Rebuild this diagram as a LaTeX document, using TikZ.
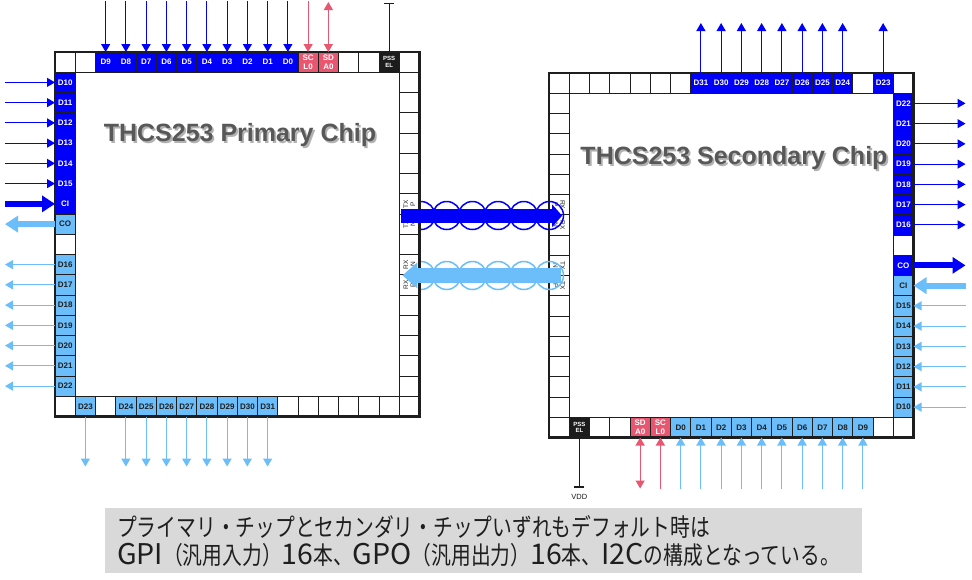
\documentclass[tikz,border=0pt]{standalone}
\usepackage{fontspec}
\setmainfont{Liberation Sans}
\newfontfamily\jpfont[FakeStretch=0.8]{Noto Sans CJK JP}
\newfontfamily\jplat{Noto Sans CJK JP}
\newcommand\lat[1]{{\jplat\fontsize{28.5}{28}\selectfont #1}}
\usetikzlibrary{arrows.meta,calc}
\definecolor{dblue}{RGB}{0,0,250}
\definecolor{lblue}{RGB}{108,190,250}
\definecolor{pinkc}{RGB}{232,86,112}
\definecolor{blk}{RGB}{28,28,28}
\definecolor{bord}{RGB}{30,30,30}
\definecolor{txtd}{RGB}{30,30,30}
\definecolor{titleg}{RGB}{88,88,88}
\definecolor{noteg}{RGB}{217,217,217}
\begin{document}
\begin{tikzpicture}[x=1pt,y=-1pt,
  cell/.style={draw=bord,line width=0.9pt,minimum width=20.25pt,minimum height=20.25pt,
    inner sep=0pt,outer sep=0pt,anchor=center,align=center,
    font=\bfseries\fontsize{8}{8.5}\selectfont},
  cE/.style={fill=white},
  cB/.style={fill=dblue,text=white},
  cL/.style={fill=lblue,text=txtd},
  cP/.style={fill=pinkc,text=white},
  cK/.style={fill=blk,text=white,font=\bfseries\fontsize{6}{6.5}\selectfont},
  cRl/.style={fill=white,text=txtd,rotate=90,font=\fontsize{6.5}{7}\selectfont},
  cRr/.style={fill=white,text=txtd,rotate=-90,font=\fontsize{6.5}{7}\selectfont},
  frame/.style={draw=bord,line width=2.6pt,minimum size=364.5pt,inner sep=0pt,outer sep=0pt},
  pinB/.style={draw=dblue,line width=1.1pt,-{Triangle[length=8pt,width=9pt]}},
  pinL/.style={draw=lblue,line width=1.1pt,-{Triangle[length=8pt,width=9pt]}},
  pinP/.style={draw=pinkc,line width=1.1pt,-{Triangle[length=8pt,width=9pt]}},
  pinPP/.style={draw=pinkc,line width=1.1pt,{Triangle[length=8pt,width=9pt]}-{Triangle[length=8pt,width=9pt]}},
  pinK/.style={draw=blk,line width=1.1pt},
  thickB/.style={draw=dblue,line width=6pt,-{Triangle[length=13pt,width=16pt]}},
  thickL/.style={draw=lblue,line width=6pt,-{Triangle[length=13pt,width=16pt]}},
  bigB/.style={draw=dblue,line width=14pt,-{Triangle[length=10pt,width=22pt]}},
  bigL/.style={draw=lblue,line width=15pt,-{Triangle[length=15pt,width=25pt]}},
  ring/.style={circle,line width=1.5pt,minimum size=28pt,inner sep=0pt},
  title/.style={font=\bfseries\fontsize{25}{25}\selectfont,text=titleg,inner sep=0pt},
  titleS/.style={title,text=black,opacity=0.3},
  notebox/.style={fill=noteg,minimum width=757pt,minimum height=65pt,inner sep=0pt},
  notetext/.style={font=\jpfont\fontsize{24.7}{28}\selectfont,text=txtd,align=left,inner sep=0pt,anchor=west},
  vdd/.style={font=\fontsize{7.5}{8}\selectfont,text=txtd,inner sep=0pt}
]
\path[use as bounding box,fill=white] (0,0) rectangle (972,579);

% ---------------- right chip (x0=549, y0=73) ----------------
\foreach \c/\t/\n in {0/cE/{},1/cE/{},2/cE/{},3/cE/{},4/cE/{},5/cE/{},6/cE/{},7/cB/D31,8/cB/D30,9/cB/D29,10/cB/D28,11/cB/D27,12/cB/D26,13/cB/D25,14/cB/D24,15/cE/{},16/cB/D23,17/cE/{}}
  \node[cell,\t] (R-T-\c) at ({549+(\c+0.5)*20.25},{73+10.125}) {\n};
\foreach \c/\t/\n in {0/cE/{},1/cK/{PSS\\EL},2/cE/{},3/cE/{},4/cP/{SD\\A0},5/cP/{SC\\L0},6/cL/D0,7/cL/D1,8/cL/D2,9/cL/D3,10/cL/D4,11/cL/D5,12/cL/D6,13/cL/D7,14/cL/D8,15/cL/D9,16/cE/{},17/cE/{}}
  \node[cell,\t] (R-B-\c) at ({549+(\c+0.5)*20.25},{73+17.5*20.25}) {\n};
\foreach \r/\t/\n in {1/cB/D22,2/cB/D21,3/cB/D20,4/cB/D19,5/cB/D18,6/cB/D17,7/cB/D16,8/cE/{},9/cB/CO,10/cL/CI,11/cL/D15,12/cL/D14,13/cL/D13,14/cL/D12,15/cL/D11,16/cL/D10}
  \node[cell,\t] (R-R-\r) at ({549+17.5*20.25},{73+(\r+0.5)*20.25}) {\n};
\foreach \r/\t/\n in {1/cE/{},2/cE/{},3/cE/{},4/cE/{},5/cE/{},6/cRr/{RX\\P},7/cRr/{RX\\N},8/cE/{},9/cRr/{TX\\N},10/cRr/{TX\\P},11/cE/{},12/cE/{},13/cE/{},14/cE/{},15/cE/{},16/cE/{}}
  \node[cell,\t] (R-L-\r) at ({549+10.125},{73+(\r+0.5)*20.25}) {\n};
\node[frame] (R-F) at ({549+182.25},{73+182.25}) {};

% ---------------- differential rings ----------------
\foreach \k in {0,...,5} {
  \node[ring,draw=dblue] (cb\k) at ({421+25.7*\k},215.5) {};
  \node[ring,draw=lblue] (cl\k) at ({421+25.7*\k},275.5) {};
}

% ---------------- left chip (x0=55, y0=52) ----------------
\foreach \c/\t/\n in {0/cE/{},1/cE/{},2/cB/D9,3/cB/D8,4/cB/D7,5/cB/D6,6/cB/D5,7/cB/D4,8/cB/D3,9/cB/D2,10/cB/D1,11/cB/D0,12/cP/{SC\\L0},13/cP/{SD\\A0},14/cE/{},15/cE/{},16/cK/{PSS\\EL},17/cE/{}}
  \node[cell,\t] (L-T-\c) at ({55+(\c+0.5)*20.25},{52+10.125}) {\n};
\foreach \c/\t/\n in {0/cE/{},1/cL/D23,2/cE/{},3/cL/D24,4/cL/D25,5/cL/D26,6/cL/D27,7/cL/D28,8/cL/D29,9/cL/D30,10/cL/D31,11/cE/{},12/cE/{},13/cE/{},14/cE/{},15/cE/{},16/cE/{},17/cE/{}}
  \node[cell,\t] (L-B-\c) at ({55+(\c+0.5)*20.25},{52+17.5*20.25}) {\n};
\foreach \r/\t/\n in {1/cB/D10,2/cB/D11,3/cB/D12,4/cB/D13,5/cB/D14,6/cB/D15,7/cB/CI,8/cL/CO,9/cE/{},10/cL/D16,11/cL/D17,12/cL/D18,13/cL/D19,14/cL/D20,15/cL/D21,16/cL/D22}
  \node[cell,\t] (L-L-\r) at ({55+10.125},{52+(\r+0.5)*20.25}) {\n};
\foreach \r/\t/\n in {1/cE/{},2/cE/{},3/cE/{},4/cE/{},5/cE/{},6/cE/{},7/cRl/{TX\\P},8/cRl/{TX\\N},9/cE/{},10/cRl/{RX\\N},11/cRl/{RX\\P},12/cE/{},13/cE/{},14/cE/{},15/cE/{},16/cE/{}}
  \node[cell,\t] (L-R-\r) at ({55+17.5*20.25},{52+(\r+0.5)*20.25}) {\n};
\node[frame] (L-F) at ({55+182.25},{52+182.25}) {};

% ---------------- big TX/RX arrows ----------------
\coordinate (txs) at ($(L-R-7.center)+(-8,11.8)$);
\coordinate (txe0) at ($(R-L-6.center)+(3,0)$);
\coordinate (txe) at (txe0 |- txs);
\draw[bigB] (txs) -- (txe);
\coordinate (rxs) at ($(R-L-9.center)+(2,10)$);
\coordinate (rxe0) at ($(L-R-10.center)+(-7,0)$);
\coordinate (rxe) at (rxe0 |- rxs);
\draw[bigL] (rxs) -- (rxe);

% ---------------- left chip pins ----------------
\foreach \c in {2,...,11} {
  \coordinate (L-T-\c-e) at ($(L-T-\c.north)+(0,-51)$);
  \draw[pinB] (L-T-\c-e) -- (L-T-\c.north);
}
\coordinate (L-T-12-e) at ($(L-T-12.north)+(0,-51)$);
\draw[pinP] (L-T-12-e) -- (L-T-12.north);
\coordinate (L-T-13-e) at ($(L-T-13.north)+(0,-50)$);
\draw[pinPP] (L-T-13-e) -- (L-T-13.north);
\coordinate (L-T-16-e) at ($(L-T-16.north)+(0,-49)$);
\draw[pinK,{Bar[width=10pt]}-] (L-T-16-e) -- (L-T-16.north);

\foreach \r in {1,...,6} {
  \coordinate (L-L-\r-e) at ($(L-L-\r.west)+(-50,0)$);
  \draw[pinB] (L-L-\r-e) -- (L-L-\r.west);
}
\coordinate (L-L-7-e) at ($(L-L-7.west)+(-50,0)$);
\draw[thickB] (L-L-7-e) -- (L-L-7.west);
\coordinate (L-L-8-e) at ($(L-L-8.west)+(-50,0)$);
\draw[thickL] (L-L-8.west) -- (L-L-8-e);
\foreach \r in {10,...,16} {
  \coordinate (L-L-\r-e) at ($(L-L-\r.west)+(-50,0)$);
  \draw[pinL] (L-L-\r.west) -- (L-L-\r-e);
}
\foreach \c in {1,3,4,5,6,7,8,9,10} {
  \coordinate (L-B-\c-e) at ($(L-B-\c.south)+(0,50)$);
  \draw[pinL] (L-B-\c.south) -- (L-B-\c-e);
}

% ---------------- right chip pins ----------------
\foreach \c in {7,...,14,16} {
  \coordinate (R-T-\c-e) at ($(R-T-\c.north)+(0,-50)$);
  \draw[pinB] (R-T-\c.north) -- (R-T-\c-e);
}
\foreach \r in {1,...,7} {
  \coordinate (R-R-\r-e) at ($(R-R-\r.east)+(52,0)$);
  \draw[pinB] (R-R-\r.east) -- (R-R-\r-e);
}
\coordinate (R-R-9-e) at ($(R-R-9.east)+(52,0)$);
\draw[thickB] (R-R-9.east) -- (R-R-9-e);
\coordinate (R-R-10-e) at ($(R-R-10.east)+(52,0)$);
\draw[thickL] (R-R-10-e) -- (R-R-10.east);
\foreach \r in {11,...,16} {
  \coordinate (R-R-\r-e) at ($(R-R-\r.east)+(52,0)$);
  \draw[pinL] (R-R-\r-e) -- (R-R-\r.east);
}
\coordinate (R-B-1-e) at ($(R-B-1.south)+(0,50)$);
\draw[pinK,-{Bar[width=10pt]}] (R-B-1.south) -- (R-B-1-e);
\node[vdd] (vddlbl) at ($(R-B-1-e)+(0,9)$) {VDD};
\coordinate (R-B-4-e) at ($(R-B-4.south)+(0,51)$);
\draw[pinPP] (R-B-4.south) -- (R-B-4-e);
\coordinate (R-B-5-e) at ($(R-B-5.south)+(0,51)$);
\draw[pinP] (R-B-5-e) -- (R-B-5.south);
\foreach \c in {6,...,15} {
  \coordinate (R-B-\c-e) at ($(R-B-\c.south)+(0,51)$);
  \draw[pinL] (R-B-\c-e) -- (R-B-\c.south);
}

% ---------------- titles ----------------
\node[titleS] (Lts) at (241.8,136.8) {THCS253 Primary Chip};
\node[title] (Lt) at (240,135) {THCS253 Primary Chip};
\node[titleS] (Rts) at (735.8,159.8) {THCS253 Secondary Chip};
\node[title] (Rt) at (734,158) {THCS253 Secondary Chip};

% ---------------- note ----------------
\node[notebox] (nb) at (483.5,540.5) {};
\node[notetext] (nt) at (117,541) {プライマリ・チップとセカンダリ・チップいずれもデフォルト時は\\\lat{GPI}（汎用入力）\lat{16}本、\lat{GPO}（汎用出力）\lat{16}本、\lat{I2C}の構成となっている。};
\end{tikzpicture}
\end{document}
